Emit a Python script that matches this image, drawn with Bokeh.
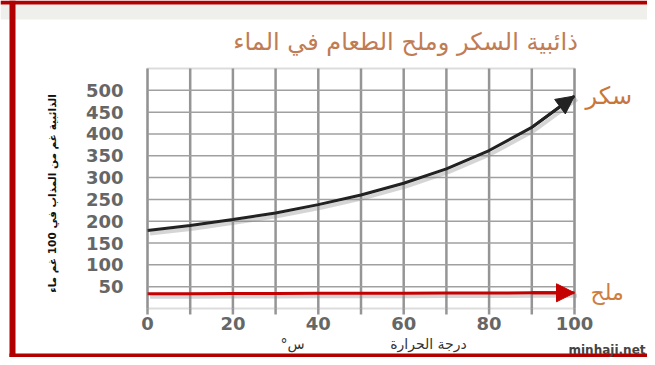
import math
from bokeh.plotting import figure
from bokeh.models import Label, Arrow, NormalHead, BoxAnnotation, ColumnDataSource
from bokeh.core.properties import value
from bokeh.transform import dodge
from bokeh.embed import file_html
from bokeh.resources import INLINE

# ---- data ----
temps = [0, 10, 20, 30, 40, 50, 60, 70, 80, 90, 100]
sugar = [179, 190, 204, 219, 238, 260, 287, 320, 362, 415, 487]
salt = [34, 34, 34.5, 34.5, 35, 35, 35, 35.5, 35.5, 36, 36]
x_ticks = [0, 20, 40, 60, 80, 100]
x_tick_labels = ["0", "20", "40", "60", "80", "100"]
x_grid = [0, 10, 20, 30, 40, 50, 60, 70, 80, 90, 100]
y_ticks = [50, 100, 150, 200, 250, 300, 350, 400, 450, 500]
y_tick_labels = ["50", "100", "150", "200", "250", "300", "350", "400", "450", "500"]

title_text = "ذائبية السكر وملح الطعام في الماء"
y_label = "الذائبية غم من المذاب في 100 غم ماء"
x_label = "درجة الحرارة"
x_unit = "°س"
sugar_name = "سكر"
salt_name = "ملح"
credit = "minhaji.net"

# ---- layout (pixels inside the figure canvas) ----
W, H = 647, 357
FRAME_L, FRAME_R, FRAME_T, FRAME_B = 147, 574, 68, 308
X0, X1 = 0, 100
Y0, Y1 = 0, 550
sx = (FRAME_R - FRAME_L) / (X1 - X0)
sy = (FRAME_B - FRAME_T) / (Y1 - Y0)


def px_x(px):
    return X0 + (px - FRAME_L) / sx


def px_y(py):
    return Y0 + (FRAME_B - py) / sy


ARABIC = "DejaVu Sans"
GRID_V = "#8a8a8a"
GRID_H = "#a0a0a0"
RED = "#b00000"

p = figure(width=W, height=H, output_backend="svg", toolbar_location=None,
           x_range=(px_x(0), px_x(W)), y_range=(px_y(H), px_y(0)),
           x_axis_location=None, y_axis_location=None, min_border=0)
p.background_fill_color = "white"
p.border_fill_color = "white"
p.outline_line_color = None
p.grid.visible = False

# top light band and red frame
p.add_layout(BoxAnnotation(top=px_y(4), bottom=px_y(19), fill_color="#efefec",
                           fill_alpha=1, line_alpha=0))
p.add_layout(BoxAnnotation(top=px_y(0), bottom=px_y(4), fill_color=RED,
                           fill_alpha=1, line_alpha=0))
p.add_layout(BoxAnnotation(left=px_x(9), right=px_x(15), fill_color=RED,
                           fill_alpha=1, line_alpha=0))
p.add_layout(BoxAnnotation(left=px_x(9), top=px_y(353), bottom=px_y(357),
                           fill_color=RED, fill_alpha=1, line_alpha=0))

# grid lines
p.segment(x0=x_grid, y0=[Y0] * len(x_grid), x1=x_grid, y1=[Y1] * len(x_grid),
          line_color=GRID_V, line_width=2.5, line_alpha=0.9)
p.segment(x0=[X0] * len(y_ticks), y0=y_ticks, x1=[X1] * len(y_ticks), y1=y_ticks,
          line_color=GRID_H, line_width=1.5)
# x tick marks below the frame
p.segment(x0=x_grid, y0=[Y0] * len(x_grid), x1=x_grid, y1=[px_y(FRAME_B + 6)] * len(x_grid),
          line_color=GRID_V, line_width=2.5, line_alpha=0.9)
# frame outline
p.add_layout(BoxAnnotation(left=X0, right=X1, bottom=Y0, top=Y1, fill_alpha=0,
                           line_color="#8a8a8a", line_width=2))

src = ColumnDataSource(dict(t=temps, sugar=sugar, salt=salt))

# shadows
p.line(x=dodge("t", 0.6), y=dodge("sugar", -7), source=src, line_color="#888888",
       line_width=4, line_alpha=0.35)
p.line(x=dodge("t", 0.6), y=dodge("salt", -7), source=src, line_color="#888888",
       line_width=4, line_alpha=0.35)

# series
p.line(x="t", y="salt", source=src, line_color="#c40000", line_width=3)
p.line(x="t", y="sugar", source=src, line_color="#222222", line_width=3)

p.add_layout(Arrow(end=NormalHead(size=18, fill_color="#c40000", line_color="#c40000"),
                   x_start=temps[-2], y_start=salt[-2], x_end=temps[-1], y_end=salt[-1],
                   line_color="#c40000", line_width=3))
p.add_layout(Arrow(end=NormalHead(size=18, fill_color="#222222", line_color="#222222"),
                   x_start=temps[-2], y_start=sugar[-2], x_end=temps[-1], y_end=sugar[-1],
                   line_color="#222222", line_width=3))

# tick labels
p.text(x=x_ticks, y=[px_y(323)] * len(x_ticks), text=x_tick_labels,
       text_align="center", text_baseline="middle", text_font=value("DejaVu Sans"),
       text_font_style="bold", text_font_size="18px", text_color="#666666")
p.text(x=[px_x(123)] * len(y_ticks), y=y_ticks, text=y_tick_labels,
       text_align="right", text_baseline="middle", text_font=value("DejaVu Sans"),
       text_font_style="bold", text_font_size="18px", text_color="#666666")

# axis titles
p.add_layout(Label(x=px_x(51), y=px_y(193), text=y_label, angle=math.pi / 2,
                   text_align="center", text_baseline="middle", text_font=ARABIC,
                   text_font_style="bold", text_font_size="10.5px", text_color="#111111"))
p.add_layout(Label(x=px_x(428), y=px_y(343), text=x_label, text_align="center",
                   text_baseline="middle", text_font=ARABIC, text_font_size="14px",
                   text_color="#333333"))
p.add_layout(Label(x=px_x(292), y=px_y(343), text=x_unit, text_align="center",
                   text_baseline="middle", text_font=ARABIC, text_font_size="14px",
                   text_color="#333333"))

# title, series names, credit
p.add_layout(Label(x=px_x(405), y=px_y(41), text=title_text, text_align="center",
                   text_baseline="middle", text_font=ARABIC, text_font_size="24px",
                   text_color="#c07c55"))
p.add_layout(Label(x=px_x(585), y=sugar[-1], text=sugar_name, text_align="left",
                   text_baseline="middle", text_font=ARABIC, text_font_size="24px",
                   text_color="#c8763a"))
p.add_layout(Label(x=px_x(590), y=salt[-1], text=salt_name, text_align="left",
                   text_baseline="middle", text_font=ARABIC, text_font_size="22px",
                   text_color="#d07d40"))
p.add_layout(Label(x=px_x(645), y=px_y(349), text=credit, text_align="right",
                   text_baseline="middle", text_font="DejaVu Sans", text_font_style="bold",
                   text_font_size="12px", text_color="#444444"))

open("out.html", "w").write(file_html(p, INLINE))
